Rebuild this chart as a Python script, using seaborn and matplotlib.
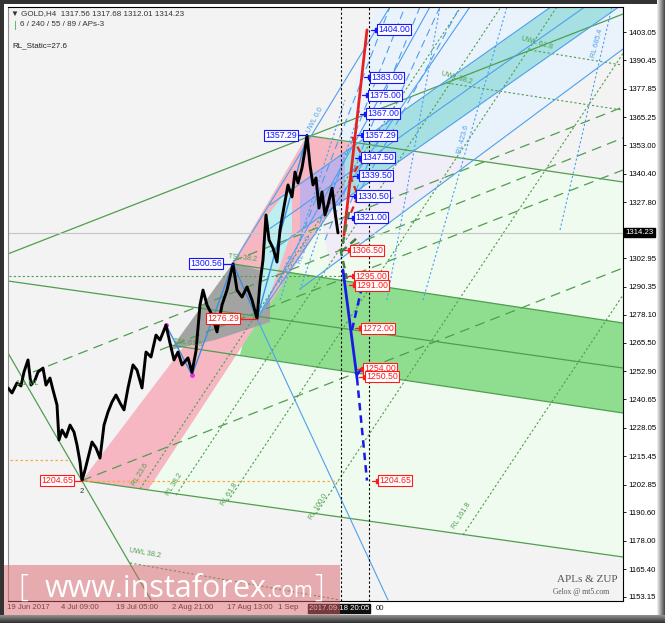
import numpy as np
import pandas as pd
import seaborn as sns
import matplotlib.pyplot as plt
from matplotlib.patches import Polygon, Rectangle

sns.set_theme(style='white')
plt.rcParams['font.family'] = ['Liberation Sans', 'DejaVu Sans']

# H4 closes: (bar index, price)
PRICE_PATH = [(0,1245.6),(4,1243.4),(9,1247.8),(13,1246.5),(16,1252.7),(20,1258.0),(23,1246.9),
              (27,1249.1),(30,1252.7),(35,1254.4),(38,1246.9),(42,1250.0),(45,1244.7),(49,1238.1),
              (51,1222.6),(54,1227.0),(58,1223.9),(62,1229.2),(66,1226.1),(69,1220.4),(72,1212.9),
              (74,1204.7),(77,1209.3),(80,1214.6),(84,1221.7),(88,1219.1),(92,1214.6),(96,1229.2),
              (100,1235.0),(104,1239.4),(108,1242.5),(112,1239.0),(116,1235.9),(120,1245.6),
              (125,1255.8),(129,1253.5),(134,1245.6),(138,1261.5),(143,1259.3),(148,1269.0),
              (152,1266.8),(158,1273.4),(162,1265.5),(166,1258.0),(170,1261.5),(174,1255.8),
              (180,1258.9),(184,1252.5),(188,1262.0),(192,1282.3),(195,1288.9),(199,1282.3),
              (204,1277.9),(209,1270.4),(214,1282.3),(219,1288.9),(225,1300.5),(229,1288.9),
              (234,1285.8),(239,1290.3),(244,1284.5),(249,1276.3),(252,1292.0),(255,1302.2),
              (258,1322.1),(261,1311.1),(265,1307.5),(269,1301.3),(272,1315.5),(276,1325.7),
              (280,1335.4),(284,1330.1),(287,1341.1),(290,1336.3),(294,1342.9),(297,1350.9),
              (299,1357.3),(302,1344.2),(305,1335.4),(308,1338.5),(311,1325.2),(314,1332.3),
              (317,1322.1),(320,1326.6),(324,1334.0),(327,1323.4),(330,1314.2)]
LAST_PRICE = 1314.23

# filled channels
LIGHT_GREEN = [(74,1204.65),(615,1170.84),(615,1336.71),(299,1357.29),(225,1301.3),(192,1273.45)]
LAVENDER = [(299,1357.29),(465,1346.43),(322,1299.11)]
LIGHT_BLUE = [(367,1414.2),(615,1414.2),(615,1395.53),(465,1346.43),(332,1354.4)]
TEAL = [(337,1349.75),(543,1414.2),(611,1414.2),(337,1328.96)]
DARK_GREEN = [(254,1298.67),(615,1274.34),(615,1234.53),(232,1260.18)]
PINK = [(74,1204.65),(140,1200.47),(354,1345.11),(354,1353.07),(299,1357.29),(225,1301.3),(192,1273.45)]
GRAY = [(162,1262.4),(225,1300.9),(262,1296.46),(262,1274.78),(207,1266.82)]
PURPLE = [(292,1335.8),(337,1349.75),(337,1328.96),(292,1315.0)]
CYAN = [(250,1276.55),(260,1322.1),(284,1335.8),(284,1315.0),(260,1284.5)]

GREEN_SOLID = [((-8,1303.53),(615,1411.01)), ((299,1357.29),(615,1336.71)),
               ((0,1292.92),(615,1254.43)), ((225,1300.44),(615,1274.34)),
               ((162,1264.61),(615,1234.53)), ((74,1204.65),(615,1170.84)),
               ((0,1261.1),(143,1151.8))]
GREEN_DASHED = [((74,1204.65),(615,1298.67)), ((25,1252.67),(615,1356.17)),
                ((225,1301.76),(615,1369.88)), ((152,1262.4),(615,1342.01))]
GREEN_DOTTED = [((-8,1295.3),(337,1295.3)),
                ((132,1200.91),(453,1414.2)), ((168,1198.26),(493,1414.2)),
                ((220,1195.6),(549,1414.2)), ((308,1189.86),(615,1393.54)),
                ((455,1180.57),(615,1286.73)),
                ((439,1380.49),(614,1368.55)), ((522,1395.09),(614,1388.45)),
                ((122,1168.19),(332,1151.82))]
BLUE_SOLID = [((249,1276.29),(380,1151.82)), ((292,1289.38),(615,1395.53)),
              ((262,1326.53),(543,1414.2)), ((262,1305.74),(611,1414.2)),
              ((262,1316.14),(577,1414.2)), ((225,1300.56),(382,1414.2)),
              ((249,1276.29),(462,1414.2)), ((249,1276.29),(422,1414.2))]
ZUP_BAR = [158, 184, 225, 249, 299]
ZUP_PRICE = [1273.45, 1251.34, 1300.56, 1276.29, 1357.29]
BLUE_DASHED = [((292,1311.05),(382,1414.2)), ((307,1313.25),(397,1414.2)),
               ((317,1311.05),(412,1414.2)), ((332,1317.68),(432,1414.2)),
               ((347,1328.74),(452,1414.2))]
BLUE_DOTTED = [((415,1284.51),(499,1414.2)), ((552,1315.47),(604,1414.2)),
               ((379,1284.51),(432,1414.2)), ((272,1284.51),(337,1372.97)),
               ((292,1288.94),(352,1368.55))]

# forecast paths
RED_SOLID = [(336,1313.25),(359,1404.0)]
RED_DASHED = [(344,1356.61),(355,1347.76),(343,1338.47),(350,1330.51),(342,1322.11)]
DGREEN_PATHS = [[(341,1323.44),(333,1305.74),(339,1293.8)], [(333,1305.74),(349,1311.93)]]
NAVY_SOLID = [(335,1297.79),(349,1250.01)]
NAVY_DASHED = [[(344,1271.24),(354,1290.5)], [(349,1250.01),(359,1204.65)], [(349,1251.34),(355,1255.3)]]
VLINES = [333, 361]

# price boxes: (bar, price, text, colour)
LEVELS = [(369,1404.00,'1404.00','b'),(362,1383.00,'1383.00','b'),(360,1375.00,'1375.00','b'),
          (358,1367.00,'1367.00','b'),(355,1357.29,'1357.29','b'),(353,1347.50,'1347.50','b'),
          (351,1339.50,'1339.50','b'),(348,1330.50,'1330.50','b'),(346,1321.00,'1321.00','b'),
          (342,1306.50,'1306.50','r'),(346,1295.00,'1295.00','r'),(347,1291.00,'1291.00','r'),
          (353,1272.00,'1272.00','r'),(355,1254.00,'1254.00','r'),(357,1250.50,'1250.50','r'),
          (370,1204.65,'1204.65','r')]
PIVOTS = [(290,1357.29,'1357.29','b',299),(215,1300.56,'1300.56','b',225),
          (232,1276.29,'1276.29','r',249),(66,1204.65,'1204.65','r',74)]

Y_TICKS = [1403.05,1390.45,1377.85,1365.25,1353.00,1340.40,1327.80,1302.95,1290.35,1278.10,
           1265.50,1252.90,1240.65,1228.05,1215.45,1202.85,1190.60,1178.00,1165.40,1153.15]
X_TICKS = [20, 72, 129, 185, 242, 280]
X_LABELS = ['19 Jun 2017', '4 Jul 09:00', '19 Jul 05:00', '2 Aug 21:00', '17 Aug 13:00', '1 Sep']

GREEN = '#4f9e4f'
BLUE = '#4da0ee'

fig = plt.figure(figsize=(6.65, 6.23), dpi=100)
fig.patch.set_facecolor('white')
ax = fig.add_axes([8/665, 22/623, 615/665, 594/623])
ax.set_facecolor('#f3f3f3')
ax.set_xlim(0, 615)
ax.set_ylim(1151.38, 1414.11)

for pts, col, z in [(LIGHT_GREEN,'#effbef',1), (LAVENDER,'#f0ecf8',1.1), (LIGHT_BLUE,'#eaf3fc',1.2),
                    (DARK_GREEN,'#8fde8f',1.3), (PINK,'#f6b7c2',1.4), (GRAY,'#a3a3a3',1.5),
                    (CYAN,'#bdeff0',1.6), (PURPLE,'#c2b0e6',1.6), (TEAL,'#a6e0e2',1.7)]:
    ax.add_patch(Polygon(pts, closed=True, fc=col, ec='none', zorder=z))

for (a, b) in GREEN_SOLID:
    ax.plot([a[0], b[0]], [a[1], b[1]], color=GREEN, lw=0.9, zorder=2)
for (a, b) in GREEN_DASHED:
    ax.plot([a[0], b[0]], [a[1], b[1]], color=GREEN, lw=0.9, ls=(0, (8, 5)), zorder=2)
for (a, b) in GREEN_DOTTED:
    ax.plot([a[0], b[0]], [a[1], b[1]], color=GREEN, lw=0.8, ls=(0, (2, 2)), zorder=2)
for (a, b) in BLUE_SOLID:
    ax.plot([a[0], b[0]], [a[1], b[1]], color=BLUE, lw=0.8, zorder=2)
for (a, b) in BLUE_DASHED:
    ax.plot([a[0], b[0]], [a[1], b[1]], color=BLUE, lw=0.8, ls=(0, (7, 4)), zorder=2)
for (a, b) in BLUE_DOTTED:
    ax.plot([a[0], b[0]], [a[1], b[1]], color=BLUE, lw=0.8, ls=(0, (2, 2)), zorder=2)
ax.plot(ZUP_BAR, ZUP_PRICE, color='#3b8fe6', lw=1.0, zorder=3)
ax.scatter(ZUP_BAR[:2], ZUP_PRICE[:2], s=6, color='#e030e0', zorder=4)

ax.axhline(LAST_PRICE, color='#c4c4c4', lw=0.8, zorder=2)
ax.plot([74, 330], [1204.65, 1204.65], color='#ffa640', lw=0.9, ls=(0, (2, 2)), zorder=2)
ax.plot([-8, 62], [1213.73, 1213.73], color='#ffa640', lw=0.9, ls=(0, (2, 2)), zorder=2)
for v in VLINES:
    ax.axvline(v, color='black', lw=0.8, ls=(0, (2, 2)), zorder=3)

price = pd.DataFrame(PRICE_PATH, columns=['bar', 'close'])
sns.lineplot(data=price, x='bar', y='close', sort=False, estimator=None,
             color='black', lw=2.1, ax=ax, zorder=4)

ax.plot(*zip(*RED_SOLID), color='#e82020', lw=2.0, zorder=5)
ax.plot(*zip(*RED_DASHED), color='#e82020', lw=1.6, ls=(0, (3, 2)), zorder=5)
for p in DGREEN_PATHS:
    ax.plot(*zip(*p), color='#3f7f3f', lw=1.8, ls=(0, (3, 2)), zorder=5)
ax.plot(*zip(*NAVY_SOLID), color='#1a1ae6', lw=2.0, zorder=5)
for p in NAVY_DASHED:
    ax.plot(*zip(*p), color='#1a1ae6', lw=1.8, ls=(0, (3, 2)), zorder=5)

cols = {'b': '#1414ff', 'r': '#ff1a1a'}
for bx, pr, txt, c in LEVELS:
    ax.plot([bx - 6, bx], [pr, pr], color=cols[c], lw=0.9, zorder=6)
    ax.plot([bx], [pr], marker='s', ms=2.2, color=cols[c], zorder=6)
    ax.text(bx + 1.5, pr, txt, fontsize=6.3, color=cols[c], va='center', ha='left', zorder=7,
            bbox=dict(boxstyle='square,pad=0.12', fc='white', ec=cols[c], lw=0.8))
for bx, pr, txt, c, tip in PIVOTS:
    ax.plot([bx, tip], [pr, pr], color=cols[c], lw=0.9, zorder=6)
    ax.text(bx - 1, pr, txt, fontsize=6.3, color=cols[c], va='center', ha='right', zorder=7,
            bbox=dict(boxstyle='square,pad=0.12', fc='white', ec=cols[c], lw=0.8))

# small rotated level names
NOTES = [(307,1364.1,'UWL 0.0',BLUE,62),(449,1382.7,'UWL 38.2',GREEN,-16),(529,1398.2,'UWL 61.8',GREEN,-16),
         (589,1398.2,'RL 685.4',BLUE,75),(455,1355.3,'RL 423.6',BLUE,75),(235,1303.1,'TSL 38.2',GREEN,-6),
         (180,1265.5,'TSL 61.8',GREEN,-6),(19,1247.8,'1.1 ML',GREEN,0),(132,1207.5,'RL 23.6',GREEN,58),
         (166,1203.0,'RL 38.2',GREEN,58),(221,1198.5,'RL 61.8',GREEN,58),(310,1193.0,'RL 100.0',GREEN,58),
         (454,1189.0,'RL 161.8',GREEN,58),(137,1172.6,'UWL 38.2',GREEN,-10),
         (297,1306.6,'RL 100.0',BLUE,70),(280,1298.0,'RL 161.8',BLUE,70)]
for bx, pr, txt, c, rot in NOTES:
    ax.text(bx, pr, txt, fontsize=5.2, color=c, rotation=rot, ha='center', va='center', zorder=6)
ax.text(74, 1199.8, '2', fontsize=5.5, color='#333333', ha='center', va='center', zorder=6)

ax.yaxis.tick_right()
ax.set_yticks(Y_TICKS)
ax.set_yticklabels([f'{v:.2f}' for v in Y_TICKS])
ax.set_xticks(X_TICKS)
ax.set_xticklabels(X_LABELS)
ax.tick_params(axis='y', labelsize=5.6, length=2.5, width=0.6, pad=1.5, colors='black', direction='out')
ax.tick_params(axis='x', labelsize=5.6, length=2, width=0.6, pad=2, colors='#222222', direction='in')
ax.set_xlabel('')
ax.set_ylabel('')
for s in ax.spines.values():
    s.set_color('black')
    s.set_linewidth(0.8)
ax.spines['left'].set_color('#909090')

ax.text(1.004, LAST_PRICE, f'{LAST_PRICE:.2f}', transform=ax.get_yaxis_transform(), fontsize=5.6,
        color='white', va='center', ha='left', zorder=8,
        bbox=dict(boxstyle='square,pad=0.15', fc='black', ec='black'))
ax.text(331, -0.013, '2017.09.18 20:05', transform=ax.get_xaxis_transform(), fontsize=5.6,
        color='white', va='center', ha='center', zorder=8,
        bbox=dict(boxstyle='square,pad=0.12', fc='#101010', ec='#101010'), clip_on=False)
ax.text(368, -0.013, '00', transform=ax.get_xaxis_transform(), fontsize=5.6,
        color='#222222', va='center', ha='left', clip_on=False)


def fx(px):
    return px / 665


def fy(py):
    return 1 - py / 623


fig.text(fx(11), fy(14), '\u25bc GOLD,H4  1317.56 1317.68 1312.01 1314.23', fontsize=5.8,
         color='#333333', va='center')
fig.text(fx(20), fy(25), '6 / 240 / 55 / 89 / APs-3', fontsize=5.8, color='#333333', va='center')
fig.add_artist(Rectangle((fx(15), fy(30)), 1 / 665, 9 / 623, transform=fig.transFigure,
                         fc='#5cc05c', ec='none'))
fig.text(fx(12), fy(46), 'RL_Static=27.6', fontsize=5.8, color='#222222', va='center')
fig.text(fx(557), fy(582), 'APLs & ZUP', fontsize=8, color='#555555',
         family=['Liberation Serif', 'DejaVu Serif'], va='baseline')
fig.text(fx(553), fy(594), 'Gelox @ mt5.com', fontsize=5.5, color='#555555',
         family=['Liberation Serif', 'DejaVu Serif'], va='baseline')

# watermark band
fig.add_artist(Rectangle((fx(4), fy(620)), 336 / 665, 55 / 623, transform=fig.transFigure,
                         fc='#d8656a', ec='none', alpha=0.5, zorder=10))
fig.text(fx(18), fy(596), '[', fontsize=22, color='white', va='baseline', zorder=11,
         family=['Open Sans', 'DejaVu Sans'], fontweight='light')
fig.text(fx(45), fy(597), 'www.instaforex', fontsize=22, color='white', va='baseline', zorder=11,
         family=['Open Sans', 'DejaVu Sans'])
fig.text(fx(267), fy(597), '.com', fontsize=15, color='white', va='baseline', zorder=11,
         family=['Open Sans', 'DejaVu Sans'])
fig.text(fx(314), fy(596), ']', fontsize=22, color='white', va='baseline', zorder=11,
         family=['Open Sans', 'DejaVu Sans'], fontweight='light')

# window frame
frame = '#333333'
fig.add_artist(Rectangle((0, 0), fx(4), 1, transform=fig.transFigure, fc=frame, ec='none', zorder=12))
fig.add_artist(Rectangle((0, fy(4)), 1, 4 / 623, transform=fig.transFigure, fc=frame, ec='none', zorder=12))
for i, g in enumerate(np.linspace(0.92, 0.3, 8)):
    fig.add_artist(Rectangle((fx(657 + i), 0), 1 / 665, 1, transform=fig.transFigure,
                             fc=(g, g, g), ec='none', zorder=12))
for i, g in enumerate(np.linspace(0.55, 0.2, 8)):
    fig.add_artist(Rectangle((0, fy(615 + i) - 1 / 623), 1, 1 / 623, transform=fig.transFigure,
                             fc=(g, g, g), ec='none', zorder=12))

fig.savefig('out.png', dpi=100, facecolor=fig.get_facecolor())
